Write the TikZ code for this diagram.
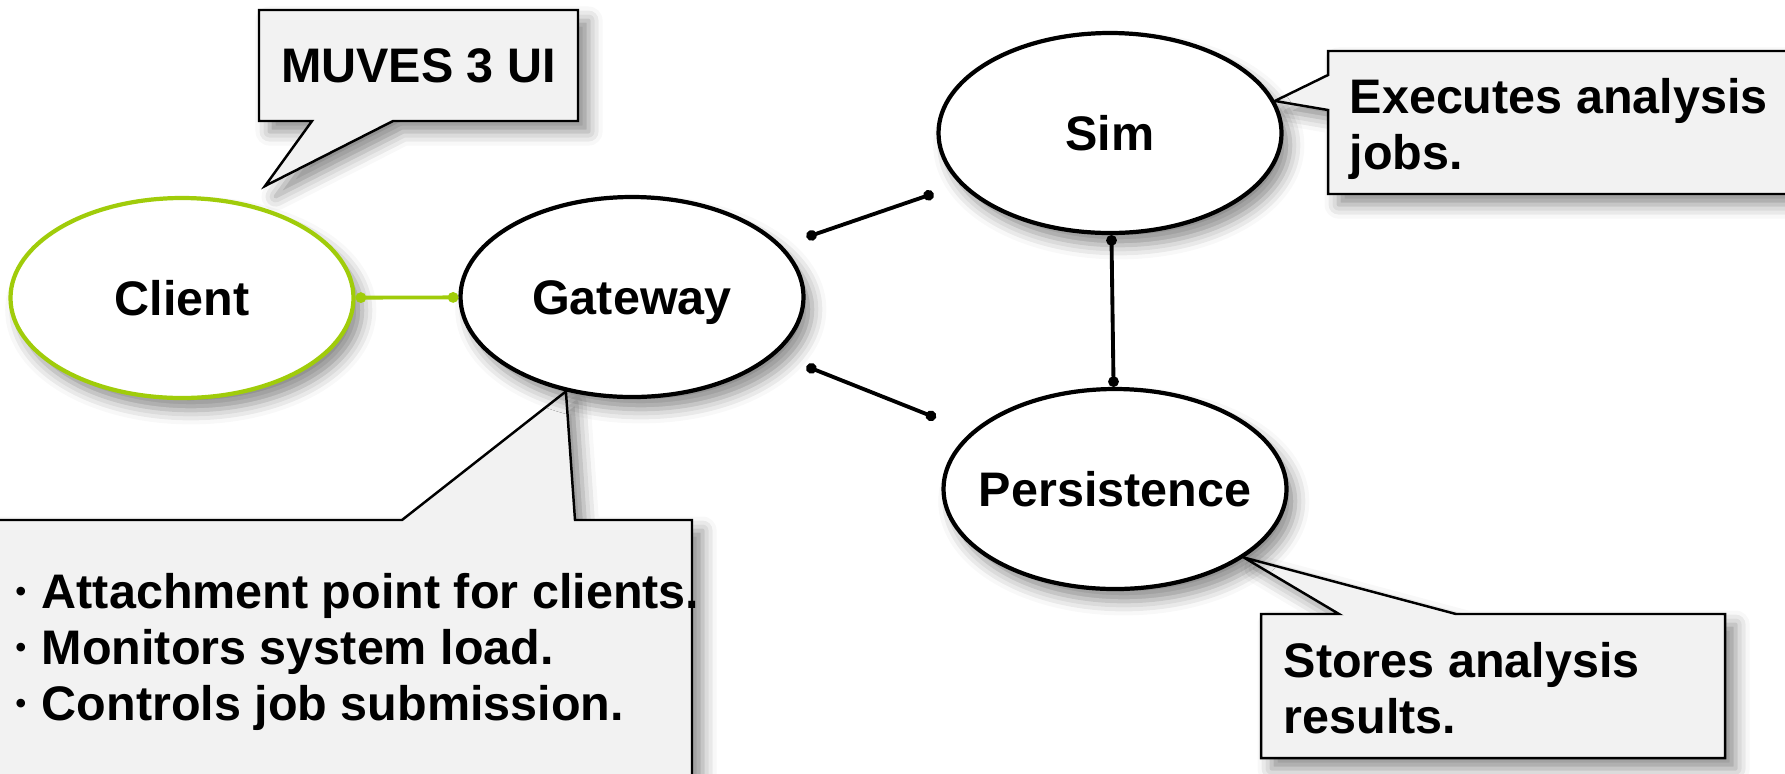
\documentclass[tikz,border=0pt]{standalone}
\usepackage{fontspec}
\setmainfont{Liberation Sans}
\definecolor{lime}{RGB}{160,204,10}
\definecolor{notegray}{RGB}{242,242,242}
\usetikzlibrary{shapes.geometric,arrows.meta,backgrounds,shadows.blur}
% keep the ellipse size fixed whatever the label width
\newcommand{\nowidth}[1]{\makebox[0pt]{#1}}
\newcommand{\dotitem}{\raisebox{0.14em}{\scalebox{0.62}{\textbullet}}\hspace{0.32em}}

\begin{document}
\begin{tikzpicture}[
  font=\bfseries\fontsize{13.8}{15.9}\selectfont,
  comp/.style={
    ellipse, draw=black, line width=1.2pt, fill=white,
    minimum width=3.43cm, minimum height=2cm, inner sep=0pt,
    text height=1.96ex, text depth=0.1ex,
    blur shadow={shadow xshift=2.5pt, shadow yshift=-3.5pt,
                 shadow blur radius=4pt, shadow opacity=45}
  },
  note/.style={align=left, inner sep=0pt},
  callout/.style={
    draw=black, line width=0.7pt, fill=notegray,
    blur shadow={shadow xshift=3pt, shadow yshift=-3pt,
                 shadow blur radius=4pt, shadow opacity=45}
  },
  link/.style={{Circle[length=3pt]}-{Circle[length=3pt]}, line width=1.1pt}
]
\useasboundingbox (0,0) rectangle (17.85,-7.73);

% components
\node[comp, draw=lime] (client) at (1.82,-2.98) {\nowidth{Client}};
\node[comp] (gateway) at (6.32,-2.97) {\nowidth{Gateway}};
\node[comp] (sim) at (11.10,-1.33) {\nowidth{Sim}};
\node[comp] (persist) at (11.15,-4.89) {\nowidth{Persistence}};

\draw[link, lime] (client) -- (gateway);
\draw[link, shorten <=0.26cm, shorten >=0.28cm] (gateway) -- (sim);
\draw[link, shorten <=0.33cm, shorten >=0.38cm] (gateway) -- (persist);
\draw[link] (sim) -- (persist);

% notes
\node[note] (uiText) at (4.185,-0.66) {MUVES 3 UI};
\node[note, anchor=west] (simText) at (13.49,-1.29)
  {Executes analysis\\jobs.};
\node[note, anchor=west] (gwText) at (0.15,-6.52)
  {\dotitem Attachment point for clients.\\
   \dotitem Monitors system load.\\
   \dotitem Controls job submission.};
\node[note, anchor=west] (stText) at (12.83,-6.88)
  {Stores analysis\\results.};

\coordinate (uiTip) at (2.65,-1.86);

\begin{scope}[on background layer]
\draw[callout] (2.59,-0.10) -- (5.78,-0.10) -- (5.78,-1.21) -- (3.93,-1.21)
  -- (uiTip) -- (3.12,-1.21) -- (2.59,-1.21) -- cycle;
\draw[callout] (13.28,-0.51) -- (18.30,-0.51) -- (18.30,-1.94) -- (13.28,-1.94)
  -- (13.28,-1.10) -- (sim.11) -- (13.28,-0.75) -- cycle;
\draw[callout] (-0.30,-5.20) -- (4.02,-5.20) -- (gateway.-125) -- (5.75,-5.20)
  -- (6.92,-5.20) -- (6.92,-7.90) -- (-0.30,-7.90) -- cycle;
\draw[callout] (12.61,-6.14) -- (13.39,-6.14) -- (persist.-28) -- (14.56,-6.14)
  -- (17.25,-6.14) -- (17.25,-7.58) -- (12.61,-7.58) -- cycle;
\end{scope}
\end{tikzpicture}
\end{document}
